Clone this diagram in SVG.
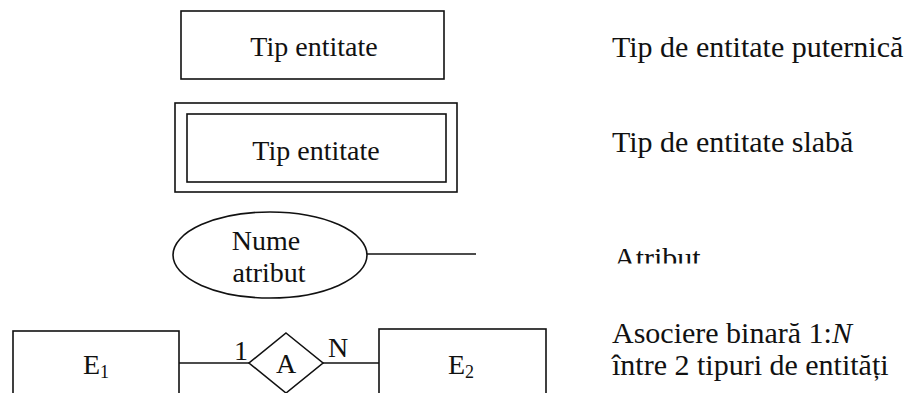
<svg xmlns="http://www.w3.org/2000/svg" width="906" height="393" viewBox="0 0 906 393">
<style>
.s{fill:#fff;stroke:#111;stroke-width:1.6}
.t{font-family:"Liberation Serif","Times New Roman",serif;font-size:28px;fill:#111}
.r{font-family:"Liberation Serif","Times New Roman",serif;font-size:30px;fill:#111}
.c{text-anchor:middle}
.ln{stroke:#111;stroke-width:1.6;fill:none}
</style>
<defs>
<clipPath id="cut"><rect x="600" y="230" width="200" height="33.5"/></clipPath>
</defs>
<rect width="906" height="393" fill="#fff"/>
<g id="strong">
<rect class="s" x="181" y="11" width="263" height="68"/>
<text class="t c" x="314" y="56">Tip entitate</text>
</g>
<g id="weak">
<rect class="s" x="175" y="103" width="282" height="89"/>
<rect class="s" x="187" y="114" width="259" height="68"/>
<text class="t c" x="316" y="160">Tip entitate</text>
</g>
<g id="attr">
<ellipse class="s" cx="270" cy="255" rx="97" ry="43"/>
<text class="t c" x="266" y="250">Nume</text>
<text class="t c" x="269" y="282">atribut</text>
</g>
<g id="e1">
<rect class="s" x="13" y="331" width="166" height="70"/>
<text class="t c" x="96" y="374">E<tspan font-size="18" dy="4">1</tspan></text>
</g>
<g id="assoc">
<polygon class="s" points="286,333 323,363 286,393 249,363"/>
<text class="t c" x="286" y="373">A</text>
</g>
<g id="e2">
<rect class="s" x="379" y="329" width="167" height="72"/>
<text class="t c" x="461" y="374">E<tspan font-size="18" dy="4">2</tspan></text>
</g>
<g id="connectors">
<line class="ln" x1="367" y1="254" x2="476" y2="254"/>
<line class="ln" x1="179" y1="363" x2="249" y2="363"/>
<line class="ln" x1="323" y1="363" x2="379" y2="363" stroke="#555"/>
<text class="t" x="234" y="360">1</text>
<text class="t" x="328" y="357">N</text>
</g>
<g id="legend">
<text class="r" x="612" y="57">Tip de entitate puternică</text>
<text class="r" x="612" y="152">Tip de entitate slabă</text>
<text class="r" x="614" y="268" clip-path="url(#cut)">Atribut</text>
<text class="r" x="612" y="343">Asociere binară 1:<tspan font-style="italic">N</tspan></text>
<text class="r" x="612" y="375">între 2 tipuri de entități</text>
</g>
</svg>
